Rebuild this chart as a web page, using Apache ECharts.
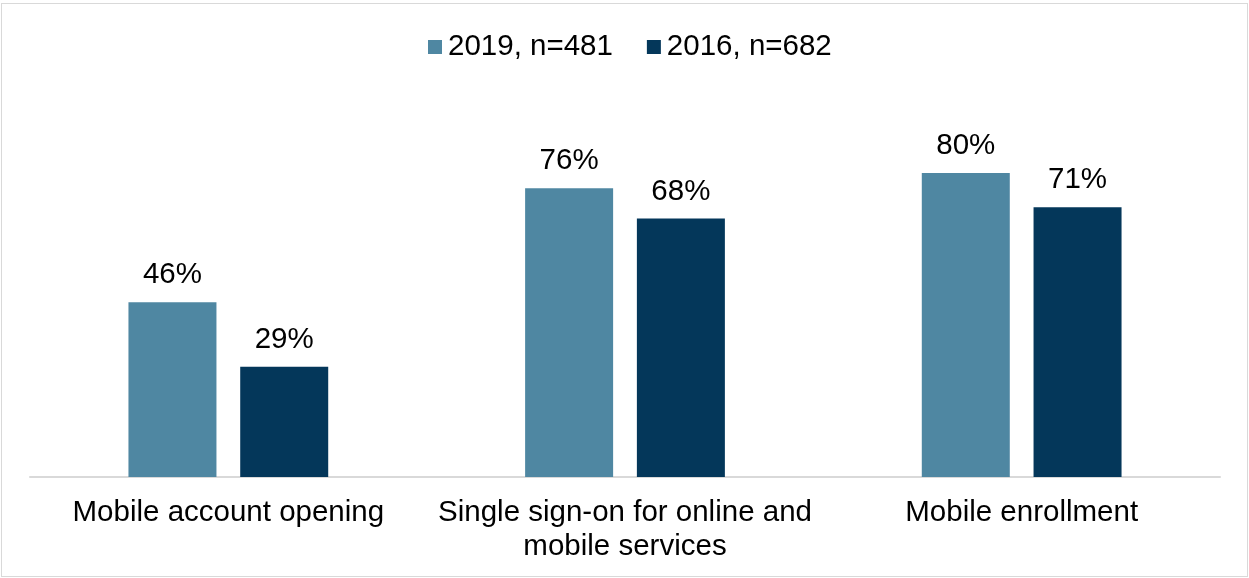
<!DOCTYPE html>
<html>
<head>
<meta charset="utf-8">
<script src="https://cdn.jsdelivr.net/npm/echarts@6/dist/echarts.min.js"></script>
<style>
html,body{margin:0;padding:0;background:#fff;}
#frame{position:absolute;left:1px;top:3px;width:1245px;height:572px;border:1px solid #d9d9d9;}
#chart{position:absolute;left:0;top:0;width:1249px;height:578px;}
</style>
</head>
<body>
<div id="frame"></div>
<div id="chart"></div>
<script>
const categories = ['Mobile account opening', 'Single sign-on for online and\nmobile services', 'Mobile enrollment'];
const seriesNames = ['2019, n=481', '2016, n=682'];
const values2019 = [46, 76, 80];
const values2016 = [29, 68, 71];

const font = 'Liberation Sans, Arial, sans-serif';
const fs = 29.5;
const chart = echarts.init(document.getElementById('chart'));
chart.setOption({
  animation: false,
  legend: {
    top: 27,
    left: 423,
    itemWidth: 14,
    itemHeight: 14,
    itemGap: 34,
    icon: 'rect',
    textStyle: {fontFamily: font, fontSize: fs, color: '#000', padding: [0, 0, 0, 1]},
    data: seriesNames
  },
  grid: {left: 30, right: 29, top: 97, bottom: 101, containLabel: false},
  xAxis: {
    type: 'category',
    data: categories,
    axisLine: {lineStyle: {color: '#d9d9d9', width: 2}},
    axisTick: {show: false},
    axisLabel: {fontFamily: font, fontSize: fs, color: '#000', lineHeight: 34, margin: 19, interval: 0}
  },
  yAxis: {type: 'value', min: 0, max: 100, show: false, splitLine: {show: false}},
  series: [
    {
      name: seriesNames[0], type: 'bar', data: values2019, barWidth: 88, barGap: '27%',
      itemStyle: {color: '#4f87a2'},
      label: {show: true, position: 'top', distance: 12, formatter: '{c}%', fontFamily: font, fontSize: fs, color: '#000'}
    },
    {
      name: seriesNames[1], type: 'bar', data: values2016, barWidth: 88,
      itemStyle: {color: '#04375a'},
      label: {show: true, position: 'top', distance: 12, formatter: '{c}%', fontFamily: font, fontSize: fs, color: '#000'}
    }
  ]
});
</script>
</body>
</html>
